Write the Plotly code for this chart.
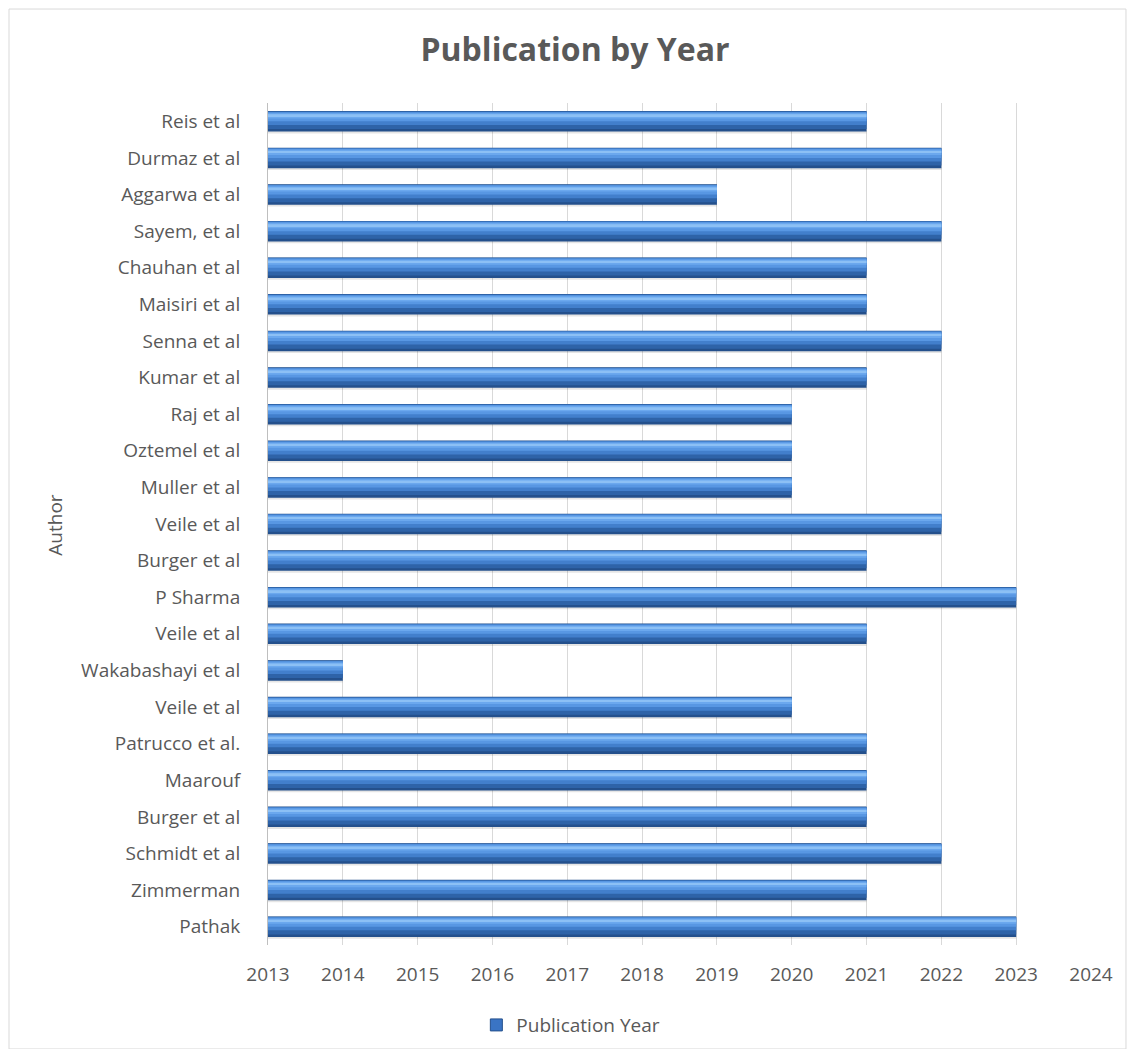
import plotly.graph_objects as go

# Data (top-to-bottom as shown in the chart)
authors = ["Reis et al", "Durmaz et al", "Aggarwa et al", "Sayem, et al", "Chauhan et al",
           "Maisiri et al", "Senna et al", "Kumar et al", "Raj et al", "Oztemel et al",
           "Muller et al", "Veile et al", "Burger et al", "P Sharma", "Veile et al",
           "Wakabashayi et al", "Veile et al", "Patrucco et al.", "Maarouf", "Burger et al",
           "Schmidt et al", "Zimmerman", "Pathak"]
pub_year = [2021, 2022, 2019, 2022, 2021,
            2021, 2022, 2021, 2020, 2020,
            2020, 2022, 2021, 2023, 2021,
            2014, 2020, 2021, 2021, 2021,
            2022, 2021, 2023]
year_ticks = list(range(2013, 2025))

n = len(authors)
pos = [n - 1 - i for i in range(n)]

FONT = "Open Sans, Calibri, sans-serif"
TXT = "#595959"

fig = go.Figure()
# layered bars to mimic the 3D cylinder shading (bottom -> top of each bar)
layers = [
    dict(lo=-0.33, hi=-0.26, color="rgba(0,0,0,0.10)"),
    dict(lo=-0.28, hi=0.28, color="#24508C"),
    dict(lo=-0.21, hi=0.27, color="#2E63A8"),
    dict(lo=-0.10, hi=0.26, color="#427FCC"),
    dict(lo=0.00, hi=0.25, color="#5897E3"),
    dict(lo=0.08, hi=0.22, color="#6BA8EE"),
    dict(lo=0.14, hi=0.19, color="#8CC0F5"),
]
for L in layers:
    fig.add_trace(go.Bar(
        x=pub_year, y=pos, orientation="h",
        width=L["hi"] - L["lo"], offset=L["lo"],
        marker=dict(color=L["color"], line=dict(width=0)),
        showlegend=False, hoverinfo="skip",
    ))
# legend entry
fig.add_trace(go.Bar(
    x=[None], y=[None], orientation="h", name="Publication Year",
    marker=dict(color="#3A74C4", line=dict(color="#24508C", width=1)),
    showlegend=True,
))

fig.update_layout(
    width=1119, height=1041,
    barmode="overlay",
    paper_bgcolor="white", plot_bgcolor="white",
    margin=dict(l=260, r=36, t=95, b=104),
    font=dict(family=FONT, color=TXT, size=19),
    title=dict(text="<b>Publication by Year</b>", x=0.5067, xanchor="center",
               y=0.9597, yanchor="middle", font=dict(size=32, color=TXT, family=FONT)),
    xaxis=dict(range=[2013, 2024], tickvals=year_ticks, ticktext=[str(v) for v in year_ticks],
               showgrid=True, gridcolor="#D9D9D9", gridwidth=1, zeroline=False,
               showline=False, ticks="outside", ticklen=12, tickcolor="rgba(0,0,0,0)",
               tickfont=dict(size=19, color=TXT, family=FONT), fixedrange=True),
    yaxis=dict(range=[-0.5, n - 0.5], tickvals=pos, ticktext=authors,
               showgrid=False, zeroline=False, showline=True, linecolor="#BFBFBF", linewidth=1,
               ticks="outside", ticklen=23, tickcolor="rgba(0,0,0,0)",
               tickfont=dict(size=19, color=TXT, family=FONT), fixedrange=True),
    legend=dict(orientation="h", xref="container", x=0.503, xanchor="center",
                yref="container", y=0.023, yanchor="middle",
                font=dict(size=19, color=TXT, family=FONT), itemwidth=30),
    annotations=[dict(text="Author", xref="paper", yref="paper", x=-0.259, y=0.499,
                      xanchor="center", yanchor="middle",
                      textangle=-90, showarrow=False, font=dict(size=19, color=TXT, family=FONT))],
    shapes=[dict(type="rect", xref="paper", yref="paper", x0=-0.3147, x1=1.0425,
                 y0=-0.1235, y1=1.1116, line=dict(color="#D9D9D9", width=1), layer="below")],
)

fig.write_html("out.html")
